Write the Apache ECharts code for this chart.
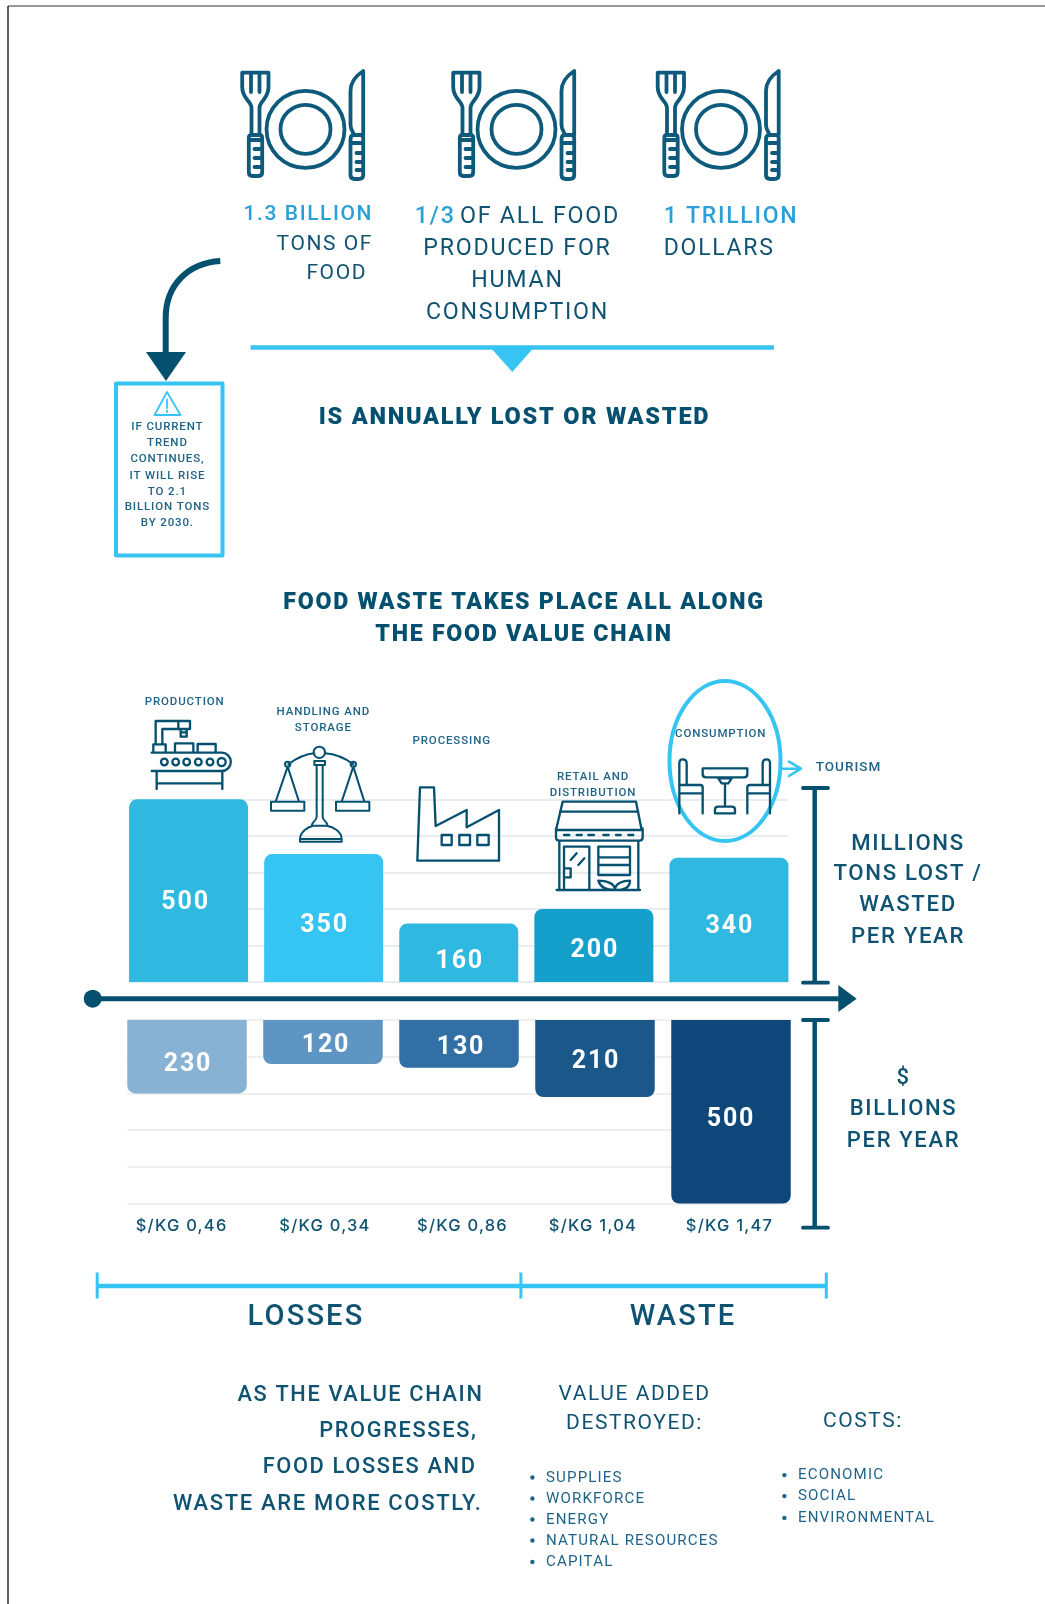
<!DOCTYPE html>
<html><head><meta charset="utf-8">
<style>html,body{margin:0;padding:0;background:#fff}#c{width:1045px;height:1604px}</style>
<script src="https://cdn.jsdelivr.net/npm/echarts@6/dist/echarts.min.js"></script>
</head><body><div id="c"></div>
<script>
// ---- data ----
const categories = ['PRODUCTION','HANDLING AND\nSTORAGE','PROCESSING','RETAIL AND\nDISTRIBUTION','CONSUMPTION'];
const tonsLost = [500,350,160,200,340];
const dollarLabels = [230,120,130,210,500];
// The reference prints 230 on its first lower bar but draws that bar down to the 200 gridline.
const dollarBarLengths = [200,120,130,210,500];
const pricePerKg = ['$/KG 0,46','$/KG 0,34','$/KG 0,86','$/KG 1,04','$/KG 1,47'];
const axisMax = 500, axisStep = 100;
const bulletsValue = ['SUPPLIES','WORKFORCE','ENERGY','NATURAL RESOURCES','CAPITAL'];
const bulletsCosts = ['ECONOMIC','SOCIAL','ENVIRONMENTAL'];
const warningLines = ['IF CURRENT','TREND','CONTINUES,','IT WILL RISE','TO 2.1','BILLION TONS','BY 2030.'];

// ---- style ----
const INK='#0f5272', DARK='#05506f', SKY='#36c5f2', MID='#2a9fd8', SMALL='#1f6488';
const topColors=['#2fb8e0','#36c5f2','#2fb8e0','#14a0cb','#2fb8e0'];
const lowColors=['#88b2d4','#5f95c2','#316fa5','#1b5889','#10477a'];
const topLabelOffset=[[-3,12],[1,8],[1,9],[1,5],[1,7]];
const lowLabelOffset=[[1,8],[3,4],[2,4],[1,3],[0,8]];
const FONT='Roboto';
const SPACING=0.075;

// letter-spaced text: every canvas font assignment also sets a proportional tracking
(function(){
  const p=CanvasRenderingContext2D.prototype, d=Object.getOwnPropertyDescriptor(p,'font');
  Object.defineProperty(p,'font',{get(){return d.get.call(this)},set(v){d.set.call(this,v);
    const m=/([\d.]+)px/.exec(v); if(m&&'letterSpacing' in this) this.letterSpacing=(parseFloat(m[1])*SPACING).toFixed(2)+'px';}});
})();

const g=[], pathEls=[];
function T(text,x,y,size,weight,fill,align,family){
  g.push({type:'text',silent:true,z:20,style:{text:text,x:x,y:y+size*0.12,fontSize:size,fontWeight:weight||400,fontFamily:family||FONT,
    fill:fill||INK,align:align||'center',verticalAlign:'middle'}});
}
function P(d,o){o=o||{};
  pathEls.push({type:'path',silent:true,x:o.x||0,y:o.y||0,scaleX:o.s||1,scaleY:o.s||1,shape:{pathData:d},
    style:{fill:o.fill||'none',stroke:o.stroke===undefined?DARK:o.stroke,lineWidth:o.w||2.4,lineCap:o.cap||'round',lineJoin:'round'}});
}

// frame
P('M8 6H1045',{stroke:'#777777',w:1.6,cap:'butt'});
P('M8 6V1604',{stroke:'#1c1c1c',w:1.4,cap:'butt'});

// plate icons
const plate='M11 66V39C11 32 1.7 30 1.7 18V3.7H28V18C28 30 19 32 19 39V66M10.5 4V23M19 4V23'+
 'M11 66H19Q21.7 66 21.7 69V103Q21.7 107 18 107H12Q8.3 107 8.3 103V69Q8.3 66 11 66ZM8.3 71H21.7M14 80H21.7M14 89H21.7M14 98H21.7'+
 'M26 60.3a39 38.5 0 1 0 78 0a39 38.5 0 1 0 -78 0M40 60.3a25 24.5 0 1 0 50 0a25 24.5 0 1 0 -50 0'+
 'M122.7 2C115 7 110 13 110 22V56C110 61 113 63 113.5 66H122.7V2ZM113 66H120Q122.7 66 122.7 69V106Q122.7 110 118 110H114.5Q110 110 110 106V71Q110 66 113 66ZM110 74H122.7M116 84H122.7M116 93H122.7M116 101H122.7';
[240.5,451.5,656].forEach(x=>P(plate,{x:x,y:69,w:3.8,stroke:'#0d5a7c'}));

// headline figures
T('1.3 BILLION',373,212,21,500,MID,'right');
T('TONS OF',373,242,21,400,INK,'right');
T('FOOD',367,271.5,21,400,INK,'right');
g.push({type:'text',silent:true,z:20,style:{text:'{a|1/3} {b|OF ALL FOOD}',x:517.5,y:217,align:'center',verticalAlign:'middle',
  rich:{a:{fontSize:23.3,fontWeight:500,fontFamily:FONT,fill:MID},b:{fontSize:23.3,fontFamily:FONT,fill:INK}}}});
T('PRODUCED FOR',517.5,246,23.2,400,INK);
T('HUMAN',517.5,278,23.2,400,INK);
T('CONSUMPTION',517.5,310.5,23.2,400,INK);
T('1 TRILLION',663.8,214,23,500,MID,'left');
T('DOLLARS',663.8,246.5,23,400,INK,'left');

// divider with pointer
P('M250.6 347.5H774',{stroke:SKY,w:4.5,cap:'butt'});
P('M491 348H533.4L512.3 372Z',{stroke:null,fill:SKY});
T('IS ANNUALLY LOST OR WASTED',514.5,415,23.5,900,DARK);

// curved arrow and warning box
P('M220.3 261C188 263 165.7 285 165.7 318V354',{stroke:DARK,w:6,cap:'butt'});
P('M146 352H186L166 381Z',{stroke:null,fill:DARK});
P('M116 383.5H222.5V555.5H116Z',{stroke:SKY,w:4,cap:'butt'});
P('M167 392L154.5 415H180.5ZM167 399.5V408M167 410.5V412',{stroke:SKY,w:1.8});
warningLines.forEach((t,i)=>T(t,167.4,[425.5,441.5,457.5,474.5,490.5,506,522][i],11.5,500,SMALL));

// section title
T('FOOD WASTE TAKES PLACE ALL ALONG',524,600,23.2,900,DARK);
T('THE FOOD VALUE CHAIN',524,632,23.2,900,DARK);

// stage labels, read from the categories
const catPos=[[184.7,701],[323.3,711],[451.7,740],[593,776],[720.7,732.5]];
categories.forEach((c,i)=>c.split('\n').forEach((t,j)=>T(t,catPos[i][0],catPos[i][1]+j*16,11.5,500,SMALL)));
T('TOURISM',815.7,766.5,13.5,500,SMALL,'left');

// stage icons (drawn in 3x space, scaled down)
P('M725 681a55.5 80 0 1 0 0.01 0Z',{stroke:SKY,w:4});
P('M32 88V18H100M52 88V42H100M100 18H135V42H100ZM107 42V65M125 42V65M107 65H125M110 52H122M25 112V88H62V112M90 112V85H145V112M158 112V87H212V112'+
  'M20 113H230A27.5 27.5 0 0 1 230 168H20M35 168V222M232 168V222M35 205H232'+
  'M48 141a10 10 0 1 0 20 0a10 10 0 1 0 -20 0M82 141a10 10 0 1 0 20 0a10 10 0 1 0 -20 0M115 141a10 10 0 1 0 20 0a10 10 0 1 0 -20 0M150 141a10 10 0 1 0 20 0a10 10 0 1 0 -20 0M185 141a10 10 0 1 0 20 0a10 10 0 1 0 -20 0M218 141a12 12 0 1 0 24 0a12 12 0 1 0 -24 0',
  {x:145,y:715,s:1/3,w:7});
P('M506 112a17 17 0 1 0 34 0a17 17 0 1 0 -34 0M508 138H540V150H508ZM515 150V305M533 150V305M515 305C515 318 500 320 500 332H548C548 320 533 318 533 305'+
  'M465 372C465 350 490 335 505 332H545C565 335 590 350 590 372ZM465 372H590V380H465Z'+
  'M430 148Q470 118 508 115M540 115Q585 118 625 148M420 148a8 8 0 1 0 16 0a8 8 0 1 0 -16 0M617 148a8 8 0 1 0 16 0a8 8 0 1 0 -16 0'+
  'M428 155L392 260M428 155L462 260M625 155L590 260M625 155L658 260M378 260H478V287H378ZM573 260H673V287H573Z',
  {x:145,y:715,s:1/3,w:6});
P('M1020 352H1062L1067 468L1160 420V472L1257 420V572H1012ZM1085 495H1115V525H1085ZM1138 495H1170V525H1138ZM1192 495H1226V525H1192Z',
  {x:80,y:670,s:1/3,w:7,cap:'butt'});
P('M38 155H258L275 240H18ZM30 185H265M18 235V262Q18 272 28 272H268Q278 272 278 262V235M42 255H58M80 255H95M115 255H132M160 255H176M198 255H212M235 255H250'+
  'M28 272V420H265V272M42 420V290H118V420M42 355H62V382H42M62 330L80 310M85 345L103 325M145 290H240V375H145ZM145 322H240M145 345H240'+
  'M145 392C170 392 195 400 195 420C195 400 220 392 240 392C240 410 225 420 195 420C165 420 150 410 145 392ZM20 420H270',
  {x:550,y:750,s:1/3,w:7});
P('M388 190V40Q388 28 398 28Q410 28 410 40V105H450Q458 105 458 112V190M388 130H458M388 105H410'+
  'M660 190V40Q660 28 650 28Q638 28 638 40V105H600Q592 105 592 112V190M592 130H660M638 105H660'+
  'M458 55H592V72Q592 82 582 82H468Q458 82 458 72ZM505 85H545L535 100H515ZM525 100V170M495 190V178Q495 170 505 170H545Q555 170 555 178V190Z',
  {x:550,y:750,s:1/3,w:7});
P('M782 768.7H800M789 761.7L801 768.7L789 776',{stroke:SKY,w:2.6});

// flow axis
P('M92.7 998.7H840',{stroke:DARK,w:5,cap:'butt'});
P('M83.7 998.7a9 9 0 1 0 18 0a9 9 0 1 0 -18 0Z',{stroke:null,fill:DARK});
P('M838.3 985V1012L856.7 998.7Z',{stroke:null,fill:DARK});

// brackets
P('M814.7 788V982.7',{stroke:DARK,w:4.5,cap:'butt'});
P('M803 788H828M803 982.7H828',{stroke:DARK,w:3.8});
P('M814.7 1020V1227.7',{stroke:DARK,w:4.5,cap:'butt'});
P('M803 1020H828M803 1227.7H828',{stroke:DARK,w:3.8});
T('MILLIONS',908,841.7,22.2,500,INK);
T('TONS LOST /',908,872,22.2,500,INK);
T('WASTED',908,902.5,22.2,500,INK);
T('PER YEAR',908,935,22.2,500,INK);
T('$',903.5,1076,22,500,INK);
T('BILLIONS',903.5,1107,22,500,INK);
T('PER YEAR',903.5,1139,22,500,INK);

// price row
const priceX=[181.6,325,462.5,593,729.5];
pricePerKg.forEach((t,i)=>T(t,priceX[i],1224,16.5,500,INK,'center','Inter'));

// losses / waste span
P('M97.2 1286H826.3',{stroke:SKY,w:4.5,cap:'butt'});
P('M97.2 1272.5V1298.5M520.9 1272.5V1298.5M826.3 1272.5V1298.5',{stroke:SKY,w:3,cap:'butt'});
T('LOSSES',306,1314,29,500,INK);
T('WASTE',683,1314,29,500,INK);

// closing notes
T('AS THE VALUE CHAIN',483.5,1392.5,21.8,500,INK,'right');
T('PROGRESSES,',477.5,1429,21.8,500,INK,'right');
T('FOOD LOSSES AND',476.5,1465,21.8,500,INK,'right');
T('WASTE ARE MORE COSTLY.',482.5,1501.5,22,500,INK,'right');
T('VALUE ADDED',634.5,1392.6,21,400,INK);
T('DESTROYED:',634.5,1421,21,400,INK);
T('COSTS:',863,1419,21,400,INK);
const yV=[1476,1497,1518,1539,1560.4], yC=[1473.6,1494.6,1516.4];
bulletsValue.forEach((t,i)=>{T(t,546,yV[i],15.1,400,SMALL,'left');P('M530.2 '+(yV[i]+1.5)+'a2.2 2.2 0 1 0 4.4 0a2.2 2.2 0 1 0 -4.4 0Z',{stroke:null,fill:SMALL});});
bulletsCosts.forEach((t,i)=>{T(t,798,yC[i],15.1,400,SMALL,'left');P('M782.2 '+(yC[i]+1.5)+'a2.2 2.2 0 1 0 4.4 0a2.2 2.2 0 1 0 -4.4 0Z',{stroke:null,fill:SMALL});});

const labelBase={show:true,position:'inside',color:'#fff',fontFamily:FONT,fontWeight:700,fontSize:25};
const hiddenCat=(gridIndex)=>({type:'category',gridIndex,data:categories,show:false,boundaryGap:true});
const hiddenVal=(gridIndex,inverse)=>({type:'value',gridIndex,min:0,max:axisMax,interval:axisStep,inverse:!!inverse,show:false});
const ruleVal=(gridIndex,inverse,color)=>({type:'value',gridIndex,min:0,max:axisMax,interval:axisStep,inverse:!!inverse,
  axisLine:{show:false},axisTick:{show:false},axisLabel:{show:false},splitLine:{show:true,lineStyle:{color,width:1.5}}});
const ruleX=(gridIndex)=>({type:'value',gridIndex,min:0,max:1,show:false});

const chart=echarts.init(document.getElementById('c'),null,{renderer:'canvas'});
chart.setOption({
  animation:false,backgroundColor:'#ffffff',
  grid:[
    {left:121,width:675.5,top:799.3,height:182.7},
    {left:119,width:680,top:1020,height:183.6},
    {left:129,width:659,top:799.3,height:182.7},
    {left:127,width:663.7,top:1020,height:183.6}
  ],
  xAxis:[hiddenCat(0),hiddenCat(1),ruleX(2),ruleX(3)],
  yAxis:[hiddenVal(0),hiddenVal(1,true),ruleVal(2,false,'#dfe9ee'),ruleVal(3,true,'#e8eaea')],
  series:[
    {type:'bar',xAxisIndex:0,yAxisIndex:0,barWidth:119,z:5,
     data:tonsLost.map((v,i)=>({value:v,itemStyle:{color:topColors[i],borderRadius:[8,8,0,0]},
       label:Object.assign({},labelBase,{offset:topLabelOffset[i],formatter:String(v)})}))},
    {type:'bar',xAxisIndex:1,yAxisIndex:1,barWidth:119.5,z:5,
     data:dollarBarLengths.map((v,i)=>({value:v,itemStyle:{color:lowColors[i],borderRadius:[0,0,8,8]},
       label:Object.assign({},labelBase,{offset:lowLabelOffset[i],formatter:String(dollarLabels[i])})}))},
    {type:'custom',coordinateSystem:'none',silent:true,z:15,data:[[0]],clip:false,
     renderItem:()=>({type:'group',children:pathEls})}
  ],
  graphic:{elements:g}
});
</script></body></html>
